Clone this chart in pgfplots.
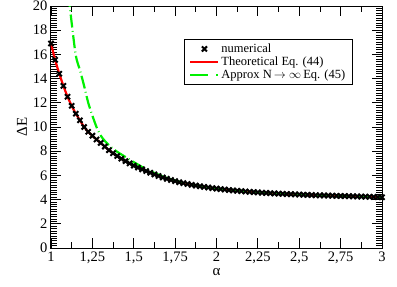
\documentclass[border=0pt]{standalone}
\usepackage{pgfplots}
\pgfplotsset{compat=1.18}
\usepackage{pgfplotstable}
\usepackage{fontspec}
\setmainfont{Liberation Serif}
\definecolor{lgreen}{RGB}{0,240,0}
\definecolor{lred}{RGB}{255,0,0}

\pgfplotstableread{
a v
1.000 16.9
1.025 15.55
1.050 14.4
1.075 13.4
1.100 12.5
1.125 11.75
1.150 11.1
1.175 10.55
1.200 10.0
1.225 9.6
1.250 9.28
1.275 8.97
1.300 8.68
1.325 8.38
1.350 8.08
1.375 7.83
1.400 7.6
1.425 7.38
1.450 7.18
1.475 6.99
1.500 6.81
1.525 6.65
1.550 6.5
1.575 6.36
1.600 6.22
1.625 6.08
1.650 5.95
1.675 5.83
1.700 5.72
1.725 5.62
1.750 5.52
1.775 5.44
1.800 5.36
1.825 5.29
1.850 5.22
1.875 5.16
1.900 5.10
1.925 5.05
1.950 5.00
1.975 4.95
2.000 4.91
2.025 4.87
2.050 4.83
2.075 4.79
2.100 4.76
2.125 4.73
2.150 4.70
2.175 4.67
2.200 4.64
2.225 4.62
2.250 4.60
2.275 4.57
2.300 4.55
2.325 4.53
2.350 4.51
2.375 4.49
2.400 4.48
2.425 4.46
2.450 4.45
2.475 4.43
2.500 4.42
2.525 4.40
2.550 4.39
2.575 4.38
2.600 4.36
2.625 4.35
2.650 4.34
2.675 4.33
2.700 4.32
2.725 4.31
2.750 4.30
2.775 4.29
2.800 4.28
2.825 4.27
2.850 4.26
2.875 4.25
2.900 4.24
2.925 4.23
2.950 4.22
2.975 4.21
3.000 4.20
}\numerical

\pgfplotstableread{
a v
1.000 16.9
1.025 15.55
1.050 14.4
1.075 13.4
1.100 12.5
1.125 11.75
1.150 11.1
1.175 10.55
1.200 10.0
1.225 9.6
1.250 9.28
1.275 8.97
1.300 8.68
1.325 8.38
1.350 8.08
1.375 7.83
1.400 7.6
1.425 7.38
1.450 7.18
1.475 6.99
1.500 6.81
1.550 6.5
1.600 6.22
1.650 5.95
1.700 5.72
1.750 5.52
1.800 5.36
1.900 5.10
2.000 4.91
2.100 4.76
2.200 4.64
2.300 4.55
2.400 4.48
2.500 4.42
2.600 4.36
2.700 4.32
2.800 4.28
2.900 4.24
3.000 4.20
}\theory

\pgfplotstableread{
a v
1.105 21.0
1.125 18.6
1.150 15.9
1.175 14.7
1.200 13.4
1.225 12.0
1.250 10.95
1.275 10.0
1.300 9.3
1.325 8.85
1.350 8.5
1.375 8.2
1.400 7.95
1.450 7.52
1.500 7.1
1.550 6.7
1.600 6.35
1.700 5.8
1.800 5.4
1.900 5.13
2.000 4.93
2.250 4.61
2.500 4.42
2.750 4.30
3.000 4.20
}\approxN

\begin{document}
\begin{tikzpicture}
\begin{axis}[
  at={(0pt,0pt)}, anchor=south west,
  scale only axis,
  width=331pt, height=242pt,
  xmin=1, xmax=3, ymin=0, ymax=20,
  xtick={1,1.25,1.5,1.75,2,2.25,2.5,2.75,3},
  xticklabels={1,{1,25},{1,5},{1,75},2,{2,25},{2,5},{2,75},3},
  ytick={0,2,...,20},
  minor x tick num=1,
  minor y tick num=9,
  tick align=inside,
  major tick length=10pt,
  minor tick length=5.5pt,
  every tick/.style={black, line width=0.8pt},
  axis line style={line width=1pt},
  /pgf/number format/assume math mode=true,
  tick label style={font=\fontsize{14.5}{16}\selectfont},
  xlabel={α},
  ylabel={ΔE},
  label style={font=\fontsize{15}{17}\selectfont},
  xlabel style={at={(axis description cs:0.5,-0.1)}, anchor=center},
  ylabel style={at={(axis description cs:-0.088,0.5)}, anchor=center},
  legend style={at={(axis description cs:0.402,0.864)}, anchor=north west,
    font=\fontsize{12.5}{14}\selectfont, draw=black, line width=0.8pt,
    inner xsep=5pt, inner ysep=2.5pt, row sep=-1pt, cells={anchor=west}},
  clip=true,
]
\addplot[only marks, mark=x, mark size=3.6pt, mark options={line width=2pt, black},
  legend image code/.code={\draw[mark repeat=1,mark phase=1] plot coordinates {(14pt,0pt)};}]
  table[x=a,y=v] {\numerical};
\addlegendentry{numerical}
\addplot[lred, line width=2.2pt, smooth,
  legend image code/.code={\draw[lred, line width=2pt] (0pt,0pt) -- (28pt,0pt);}]
  table[x=a,y=v] {\theory};
\addlegendentry{Theoretical Eq. (44)}
\addplot[lgreen, line width=2.2pt, smooth, dash pattern=on 13pt off 3.5pt on 0.8pt off 3.5pt,
  legend image code/.code={\draw[lgreen, line width=2pt, dash pattern=on 18pt off 8pt on 2pt off 9pt] (0pt,0pt) -- (28pt,0pt);}]
  table[x=a,y=v] {\approxN};
\addlegendentry{Approx N\,$\rightarrow\infty$\,Eq. (45)}
\end{axis}
\pgfresetboundingbox
\useasboundingbox (-51pt,-39pt) rectangle (346pt,248pt);
\end{tikzpicture}
\end{document}
